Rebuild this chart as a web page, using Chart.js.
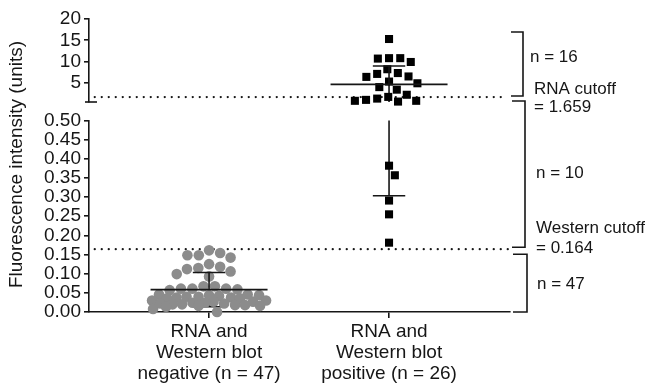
<!DOCTYPE html>
<html>
<head>
<meta charset="utf-8">
<script src="https://cdn.jsdelivr.net/npm/chart.js@4.4.1/dist/chart.umd.min.js"></script>
<style>
  html, body { margin: 0; padding: 0; background: #fff; }
</style>
</head>
<body>
<canvas id="dotChart" width="652" height="384"></canvas>
<script>
// groups on the x axis
const groupLabels = [
  ['RNA and', 'Western blot', 'negative (n = 47)'],
  ['RNA and', 'Western blot', 'positive (n = 26)'],
];

// fluorescence intensity, negative group (grey dots)
const negativeValues = [
  0.161, 0.154, 0.148, 0.148, 0.142, 0.125, 0.118, 0.115, 0.112, 0.106, 0.099, 0.093,
  0.067, 0.067, 0.061, 0.061, 0.061, 0.059, 0.057,
  0.046, 0.046, 0.044, 0.044, 0.042, 0.040, 0.040, 0.038, 0.038, 0.036, 0.036,
  0.030, 0.030, 0.027, 0.027, 0.024, 0.024, 0.022, 0.022, 0.020, 0.020, 0.018, 0.018,
  0.016, 0.016, 0.014,
  0.008, 0.000,
];

// fluorescence intensity, positive group (black squares)
const positiveValues = [
  15.3, 10.8, 10.8, 10.7, 9.9, 8.2, 7.3, 7.1, 6.5, 6.4, 5.3, 4.9, 4.0, 3.4, 2.2, 1.7,
  1.3, 1.0, 0.78, 0.78, 0.6,
  0.382, 0.357, 0.291, 0.255, 0.181,
];

const rnaCutoff = 1.659;
const westernCutoff = 0.164;
const axisBreak = 0.5;
const upperTicks = [5, 10, 15, 20];
const lowerTicks = [0, 0.05, 0.1, 0.15, 0.2, 0.25, 0.3, 0.35, 0.4, 0.45, 0.5];
const yTitle = 'Fluorescence intensity (units)';

const ink = '#161616';
const grey = '#8c8c8c';
const fontFamily = '"Liberation Sans", Arial, sans-serif';

function mean(arr) {
  return arr.reduce((s, v) => s + v, 0) / arr.length;
}

function stdev(arr) {
  const m = mean(arr);
  return Math.sqrt(arr.reduce((s, v) => s + (v - m) * (v - m), 0) / (arr.length - 1));
}

// mean line, SD whiskers and caps, split across the broken axis
// the lower whisker sits behind the dots, the rest in front
function summaryLines(center, values) {
  const m = mean(values);
  const s = stdev(values);
  const lo = Math.max(m - s, 0);
  const hi = m + s;
  const segs = [
    { pts: [[center - 0.325, m], [center + 0.325, m]], front: true },
    { pts: [[center - 0.09, hi], [center + 0.09, hi]], front: true },
    { pts: [[center - 0.09, lo], [center + 0.09, lo]], front: false },
  ];
  const vertical = (a, b, front) => {
    if (a < axisBreak && b > axisBreak) {
      segs.push({ pts: [[center, a], [center, axisBreak]], front });
      segs.push({ pts: [[center, axisBreak], [center, b]], front });
    } else {
      segs.push({ pts: [[center, a], [center, b]], front });
    }
  };
  vertical(m, hi, true);
  vertical(lo, m, false);
  return segs.map(seg => ({
    data: seg.pts.map(([x, y]) => ({ x, y })),
    yAxisID: (seg.pts[0][1] + seg.pts[1][1]) / 2 > axisBreak ? 'yTop' : 'yBot',
    showLine: true,
    borderColor: ink,
    borderWidth: 1.6,
    pointRadius: 0,
    order: seg.front ? 0 : 2,
    clip: false,
  }));
}

function cutoffLine(value, x2) {
  return {
    data: [{ x: -0.635, y: value }, { x: x2, y: value }],
    yAxisID: value > axisBreak ? 'yTop' : 'yBot',
    showLine: true,
    borderColor: ink,
    borderWidth: 2.3,
    borderDash: [0, 7],
    borderCapStyle: 'round',
    pointRadius: 0,
    order: 3,
  };
}

const negTop = negativeValues.filter(v => v > axisBreak);
const negBot = negativeValues.filter(v => v <= axisBreak);
const posTop = positiveValues.filter(v => v > axisBreak);
const posBot = positiveValues.filter(v => v <= axisBreak);

function pointSet(values, center, axisId, style) {
  return Object.assign({
    data: values.map(v => ({ x: center, y: v })),
    yAxisID: axisId,
    order: 1,
    clip: false,
    pointBorderWidth: 0,
  }, style);
}

const circleStyle = { pointStyle: 'circle', pointRadius: 5.3, pointBackgroundColor: grey, pointBorderColor: grey };
const squareStyle = { pointStyle: 'rect', pointRadius: 5.7, pointBackgroundColor: '#000', pointBorderColor: '#000' };

const pointSets = [
  { values: negTop, center: 0, axis: 'yTop', style: circleStyle, size: 11.4, limit: 57 },
  { values: negBot, center: 0, axis: 'yBot', style: circleStyle, size: 11.4, limit: 57 },
  { values: posTop, center: 1, axis: 'yTop', style: squareStyle, size: 11.2, limit: 36 },
  { values: posBot, center: 1, axis: 'yBot', style: squareStyle, size: 11.2, limit: 36 },
];

const datasets = [
  cutoffLine(rnaCutoff, 1.635),
  cutoffLine(westernCutoff, 1.66),
  ...summaryLines(0, negativeValues),
  ...summaryLines(1, positiveValues),
  ...pointSets.map(p => pointSet(p.values, p.center, p.axis, p.style)),
];

// beeswarm in pixel space, squeezed when a row gets wider than the limit
function swarm(values, yScale, size, limit) {
  const placed = [];
  const offsets = new Array(values.length).fill(0);
  const order = values.map((v, i) => i).sort((a, b) => values[b] - values[a]);
  let side = 1;
  order.forEach(i => {
    const py = yScale.getPixelForValue(values[i]);
    const near = placed.filter(p => Math.abs(p.y - py) < size);
    const fits = c => near.every(p => (c - p.x) ** 2 + (py - p.y) ** 2 >= size * size - 0.01);
    const cands = [0];
    near.forEach(p => {
      const w = Math.sqrt(size * size - (p.y - py) * (p.y - py));
      cands.push(p.x - w, p.x + w);
    });
    cands.sort((a, b) => {
      const ka = Math.abs(a) + (Math.sign(a) === side ? 0 : 1e-6);
      const kb = Math.abs(b) + (Math.sign(b) === side ? 0 : 1e-6);
      return ka - kb;
    });
    let x = cands.find(c => Math.abs(c) <= limit && fits(c));
    if (x === undefined) {
      let bestD = -1;
      x = 0;
      for (let c = -limit; c <= limit; c += 0.5) {
        const d = Math.min(...near.map(p => Math.hypot(c - p.x, py - p.y)));
        if (d > bestD + 1e-9) { bestD = d; x = c; }
      }
    }
    if (x !== 0) side = -side;
    placed.push({ x, y: py });
    offsets[i] = x;
  });
  return offsets;
}

const annotations = {
  id: 'annotations',
  afterDraw(chart) {
    const { ctx, chartArea, scales: { yTop, yBot } } = chart;
    const right = chartArea.right;
    ctx.save();
    ctx.strokeStyle = ink;
    ctx.fillStyle = ink;
    ctx.lineWidth = 1.6;

    // break mark at the bottom of the upper axis
    ctx.beginPath();
    ctx.moveTo(yTop.right - 4, yTop.bottom);
    ctx.lineTo(yTop.right + 8, yTop.bottom);
    ctx.stroke();

    const bracket = (x1, x2, top, bottom) => {
      ctx.beginPath();
      ctx.moveTo(x1, top);
      ctx.lineTo(x2, top);
      ctx.lineTo(x2, bottom);
      ctx.lineTo(x1, bottom);
      ctx.stroke();
    };
    const rnaY = yTop.getPixelForValue(rnaCutoff);
    const wbY = yBot.getPixelForValue(westernCutoff);
    const top1 = yTop.top + 13;
    const top2 = yTop.bottom - 1;
    const top3 = wbY + 5;
    bracket(right + 1, right + 13, top1, rnaY - 1);
    bracket(right + 2, right + 15, top2, wbY - 2);
    bracket(right + 3, right + 17, top3, yBot.bottom);

    const nHigh = positiveValues.filter(v => v > rnaCutoff).length;
    const nMid = positiveValues.filter(v => v <= rnaCutoff && v > westernCutoff).length;
    const nLow = negativeValues.filter(v => v <= westernCutoff).length;

    ctx.font = '17px ' + fontFamily;
    ctx.textAlign = 'left';
    ctx.textBaseline = 'middle';
    ctx.fillText('n = ' + nHigh, right + 20, (top1 + rnaY) / 2 - 7);
    ctx.fillText('RNA cutoff', right + 24, rnaY - 8);
    ctx.fillText('= ' + rnaCutoff, right + 24, rnaY + 10);
    ctx.fillText('n = ' + nMid, right + 26, (top2 + wbY) / 2 - 2);
    ctx.fillText('Western cutoff', right + 26, wbY - 21);
    ctx.fillText('= ' + westernCutoff, right + 26, wbY - 1);
    ctx.fillText('n = ' + nLow, right + 27, (top3 + yBot.bottom) / 2 + 1);

    // y axis title over both axis parts
    ctx.font = '19px ' + fontFamily;
    ctx.textAlign = 'center';
    ctx.translate(17, (yTop.top + yBot.bottom) / 2 - 1);
    ctx.rotate(-Math.PI / 2);
    ctx.fillText(yTitle, 0, 0);
    ctx.restore();
  }
};

const tickFont = { family: fontFamily, size: 19 };

const dotChart = new Chart(document.getElementById('dotChart'), {
  type: 'scatter',
  data: { datasets },
  options: {
    responsive: false,
    animation: false,
    events: [],
    layout: { padding: { left: 36, top: 19, right: 142, bottom: 0 } },
    plugins: { legend: { display: false }, tooltip: { enabled: false } },
    scales: {
      x: {
        type: 'linear',
        min: -0.667,
        max: 1.672,
        afterBuildTicks: axis => { axis.ticks = groupLabels.map((l, i) => ({ value: i })); },
        afterFit: axis => { axis.height = 72; },
        ticks: {
          color: ink,
          font: Object.assign({ lineHeight: 1.12 }, tickFont),
          padding: 3,
          maxRotation: 0,
          autoSkip: false,
          callback: value => groupLabels[value],
        },
        grid: { display: true, drawOnChartArea: false, tickLength: 6, color: ink, lineWidth: 1.6 },
        border: { color: ink, width: 1.6 },
      },
      yTop: {
        type: 'linear',
        position: 'left',
        stack: 'y',
        stackWeight: 83,
        weight: 2,
        min: axisBreak,
        max: 20,
        afterBuildTicks: axis => { axis.ticks = upperTicks.map(v => ({ value: v })); },
        afterFit: axis => { axis.width = 53; },
        ticks: { color: ink, font: tickFont, padding: 3, autoSkip: false, callback: v => String(v) },
        grid: { display: true, drawOnChartArea: false, tickLength: 5, color: ink, lineWidth: 1.6 },
        border: { color: ink, width: 1.6 },
      },
      yGap: {
        type: 'linear',
        position: 'left',
        stack: 'y',
        stackWeight: 18.5,
        weight: 1,
        display: false,
      },
      yBot: {
        type: 'linear',
        position: 'left',
        stack: 'y',
        stackWeight: 191.5,
        weight: 0,
        min: 0,
        max: axisBreak,
        afterBuildTicks: axis => { axis.ticks = lowerTicks.map(v => ({ value: v })); },
        afterFit: axis => { axis.width = 53; },
        ticks: { color: ink, font: tickFont, padding: 3, autoSkip: false, callback: v => v.toFixed(2) },
        grid: { display: true, drawOnChartArea: false, tickLength: 5, color: ink, lineWidth: 1.6 },
        border: { color: ink, width: 1.6 },
      },
    },
  },
  plugins: [annotations],
});

// spread the dots sideways once the scales are known
const xs = dotChart.scales.x;
const pxPerGroup = xs.getPixelForValue(1) - xs.getPixelForValue(0);
const firstPointSet = datasets.length - pointSets.length;
pointSets.forEach((p, k) => {
  const offsets = swarm(p.values, dotChart.scales[p.axis], p.size, p.limit);
  datasets[firstPointSet + k].data = p.values.map((v, i) => ({ x: p.center + offsets[i] / pxPerGroup, y: v }));
});
dotChart.update('none');
</script>
</body>
</html>
